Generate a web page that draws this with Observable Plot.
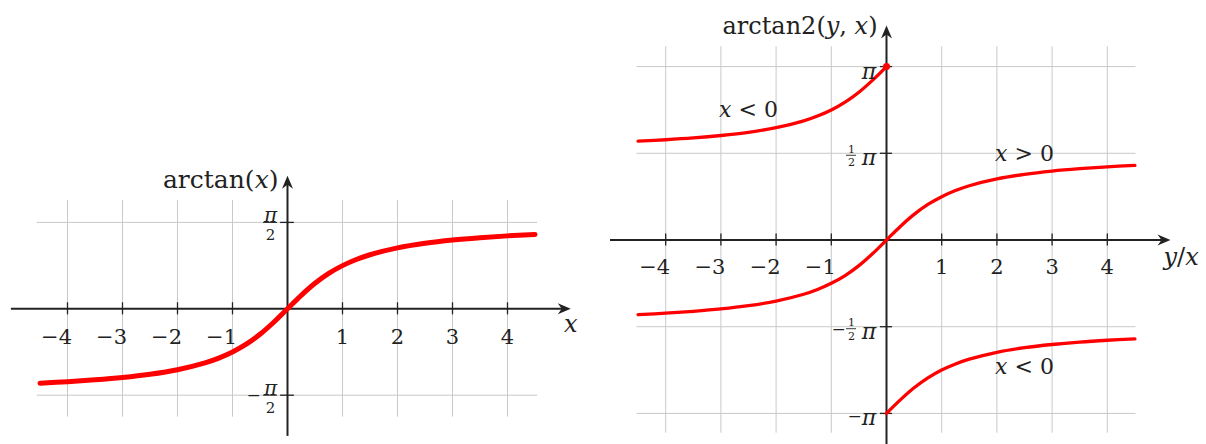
<!DOCTYPE html>
<html>
<head>
<meta charset="utf-8">
<script src="https://cdn.jsdelivr.net/npm/d3@7"></script>
<script src="https://cdn.jsdelivr.net/npm/@observablehq/plot@0.6"></script>
<style>
  html, body { margin: 0; padding: 0; background: #fff; }
  #charts { display: flex; width: 1206px; height: 444px; overflow: hidden; }
  #charts svg { flex: none; }
</style>
</head>
<body>
<div id="charts"></div>
<script>
const PI = Math.PI;

// arctan(t) sampled along the curve
const atanX = [-4.5, -4, -3.5, -3, -2.5, -2, -1.5, -1.25, -1, -0.75, -0.5, -0.25, 0,
               0.25, 0.5, 0.75, 1, 1.25, 1.5, 2, 2.5, 3, 3.5, 4, 4.5];
const atanY = [-1.352, -1.326, -1.292, -1.249, -1.190, -1.107, -0.983, -0.896, -0.785, -0.644, -0.464, -0.245, 0,
               0.245, 0.464, 0.644, 0.785, 0.896, 0.983, 1.107, 1.190, 1.249, 1.292, 1.326, 1.352];

// arctan2 branch for x < 0, y > 0 (ratio y/x negative)
const upperX = [-4.5, -4, -3.5, -3, -2.5, -2, -1.5, -1.25, -1, -0.75, -0.5, -0.25, 0];
const upperY = [1.790, 1.816, 1.849, 1.893, 1.951, 2.034, 2.159, 2.246, 2.356, 2.498, 2.678, 2.897, 3.142];

// arctan2 branch for x < 0, y < 0 (ratio y/x positive)
const lowerX = [0, 0.25, 0.5, 0.75, 1, 1.25, 1.5, 2, 2.5, 3, 3.5, 4, 4.5];
const lowerY = [-3.142, -2.897, -2.678, -2.498, -2.356, -2.246, -2.159, -2.034, -1.951, -1.893, -1.849, -1.816, -1.790];

// tick values and labels
const xTickValues = [-4, -3, -2, -1, 1, 2, 3, 4];
const xTickLabels = ["−4", "−3", "−2", "−1", "1", "2", "3", "4"];
const gridX = [-4, -3, -2, -1, 1, 2, 3, 4];
const leftYTicks = [PI / 2, -PI / 2];
const rightYTicks = [PI, PI / 2, -PI / 2, -PI];

// axis extents (data units)
const leftXAxis = [-5.02, 5.15];
const leftYAxis = [-2.32, 2.42];
const rightXAxis = [-5.0, 5.145];
const rightYAxis = [-3.8, 3.886];

// branch annotations on the arctan2 panel
const branchLabels = [
  {label: "*x* < 0", x: -2.5, y: 2.35},
  {label: "*x* > 0", x: 2.5, y: 1.567},
  {label: "*x* < 0", x: 2.5, y: -2.3}
];

const ink = "#222";
const grid = "#c9c9c9";
const red = "#ff0000";
const font = "DejaVu Serif";

const zip = (xs, ys) => xs.map((x, i) => ({x, y: ys[i]}));
const xTicks = xTickValues.map((v, i) => ({v, label: xTickLabels[i]}));

// filled "stealth" arrow heads, tip at the anchor point
const headRight = {draw(c) { c.moveTo(0, 0); c.lineTo(-13, -5.5); c.lineTo(-9, 0); c.lineTo(-13, 5.5); c.closePath(); }};
const headUp = {draw(c) { c.moveTo(0, 0); c.lineTo(-5.5, 13); c.lineTo(0, 9); c.lineTo(5.5, 13); c.closePath(); }};

// turn *...* segments of text into italic tspans
function italicize(svg) {
  d3.select(svg).selectAll("text").each(function () {
    const s = this.textContent;
    if (!s.includes("*")) return;
    const el = d3.select(this);
    el.text(null);
    s.split("*").forEach((part, i) => {
      if (!part) return;
      const t = el.append("tspan").text(part);
      if (i % 2) t.attr("font-style", "italic");
    });
  });
  return svg;
}

function axesMarks(xAxis, yAxis, tickHalf) {
  return [
    Plot.ruleY([0], {x1: xAxis[0], x2: xAxis[1] - 0.1, stroke: ink, strokeWidth: 2}),
    Plot.ruleX([0], {y1: yAxis[0], y2: yAxis[1] - 0.1, stroke: ink, strokeWidth: 2}),
    Plot.dot([{x: xAxis[1], y: 0}], {x: "x", y: "y", symbol: headRight, fill: ink, stroke: null, r: 5}),
    Plot.dot([{x: 0, y: yAxis[1]}], {x: "x", y: "y", symbol: headUp, fill: ink, stroke: null, r: 5}),
    Plot.ruleX(xTickValues, {y1: -tickHalf, y2: tickHalf, stroke: ink, strokeWidth: 1.3})
  ];
}

function xTickText(dy) {
  return [
    Plot.text(xTicks.filter(d => d.v < 0), {x: "v", y: 0, text: "label", dy, dx: 4.5, textAnchor: "end", fontSize: 21, fill: ink}),
    Plot.text(xTicks.filter(d => d.v > 0), {x: "v", y: 0, text: "label", dy, fontSize: 21, fill: ink})
  ];
}

// ---------- arctan(x) ----------
const left = Plot.plot({
  width: 600, height: 444, margin: 0,
  x: {domain: [-287 / 55, 313 / 55], axis: null},
  y: {domain: [-135.7 / 55, 308.3 / 55], axis: null},
  style: {fontFamily: font, background: "transparent", color: ink},
  marks: [
    Plot.ruleX(gridX, {y1: -1.97, y2: 1.97, stroke: grid, strokeWidth: 1}),
    Plot.ruleY(leftYTicks, {x1: -4.55, x2: 4.55, stroke: grid, strokeWidth: 1}),
    ...axesMarks(leftXAxis, leftYAxis, 0.11),
    Plot.ruleY(leftYTicks, {x1: -0.125, x2: 0.125, stroke: ink, strokeWidth: 1.3}),
    Plot.line(zip(atanX, atanY), {x: "x", y: "y", stroke: red, strokeWidth: 5, curve: "catmull-rom", strokeLinecap: "round"}),
    ...xTickText(28),
    // ±π/2 as stacked fractions
    Plot.text(leftYTicks, {x: 0, y: d => d, text: () => "π", dx: -17, dy: -7, fontSize: 20, fontStyle: "italic", fill: ink}),
    Plot.ruleY(leftYTicks, {x1: 0, x2: 0, insetLeft: -24, insetRight: 10, stroke: ink, strokeWidth: 1}),
    Plot.text(leftYTicks, {x: 0, y: d => d, text: () => "2", dx: -17, dy: 12.5, fontSize: 15, fill: ink}),
    Plot.text(leftYTicks.filter(v => v < 0), {x: 0, y: d => d, text: () => "−", dx: -34, fontSize: 17, fill: ink}),
    Plot.text(["arctan(*x*)"], {x: 0, y: leftYAxis[1], text: d => d, textAnchor: "end", dx: -9, dy: 4, fontSize: 25, fill: ink}),
    Plot.text(["*x*"], {x: leftXAxis[1], y: 0, text: d => d, dy: 16, fontSize: 24, fill: ink})
  ]
});

// ---------- arctan2(y, x) ----------
const halves = rightYTicks.filter(v => Math.abs(v) < 2);
const right = Plot.plot({
  width: 606, height: 444, margin: 0,
  x: {domain: [-286 / 55.2, 320 / 55.2], axis: null},
  y: {domain: [-204.5 / 55.2, 239.5 / 55.2], axis: null},
  style: {fontFamily: font, background: "transparent", color: ink},
  marks: [
    Plot.ruleX(gridX, {y1: -3.5, y2: 3.5, stroke: grid, strokeWidth: 1}),
    Plot.ruleY(rightYTicks, {x1: -4.52, x2: 4.52, stroke: grid, strokeWidth: 1}),
    ...axesMarks(rightXAxis, rightYAxis, 0.11),
    Plot.ruleY(rightYTicks, {x1: -0.11, x2: 0.11, stroke: ink, strokeWidth: 1.3}),
    Plot.line(zip(upperX, upperY), {x: "x", y: "y", stroke: red, strokeWidth: 3.3, curve: "catmull-rom"}),
    Plot.line(zip(atanX, atanY), {x: "x", y: "y", stroke: red, strokeWidth: 3.3, curve: "catmull-rom"}),
    Plot.line(zip(lowerX, lowerY), {x: "x", y: "y", stroke: red, strokeWidth: 3.3, curve: "catmull-rom"}),
    Plot.dot([{x: upperX[upperX.length - 1], y: upperY[upperY.length - 1]}], {x: "x", y: "y", r: 3.5, fill: red, stroke: null}),
    ...xTickText(27),
    // y tick labels: π, ½π, −½π, −π
    Plot.text(rightYTicks, {x: 0, y: d => d, text: () => "π", dx: -17.5, dy: 5, fontSize: 22, fontStyle: "italic", fill: ink}),
    Plot.text(halves, {x: 0, y: d => d, text: () => "1", dx: -35, dy: -4, fontSize: 11, fill: ink}),
    Plot.ruleY(halves, {x1: 0, x2: 0, insetLeft: -40, insetRight: 30, dy: 2, stroke: ink, strokeWidth: 0.9}),
    Plot.text(halves, {x: 0, y: d => d, text: () => "2", dx: -35, dy: 9.5, fontSize: 11, fill: ink}),
    Plot.text(rightYTicks.filter(v => v < 0 && v > -2), {x: 0, y: d => d, text: () => "−", dx: -48, dy: 3, fontSize: 17, fill: ink}),
    Plot.text(rightYTicks.filter(v => v < -2), {x: 0, y: d => d, text: () => "−", dx: -32, dy: 3, fontSize: 17, fill: ink}),
    Plot.text(branchLabels, {x: "x", y: "y", text: "label", fontSize: 22, fill: ink}),
    Plot.text(["arctan2(*y*, *x*)"], {x: 0, y: rightYAxis[1], text: d => d, textAnchor: "end", dx: -9, dy: 1, fontSize: 24, fill: ink}),
    Plot.text(["*y*/*x*"], {x: rightXAxis[1], y: 0, text: d => d, textAnchor: "start", dx: -7, dy: 17, fontSize: 24, fill: ink})
  ]
});

const host = document.getElementById("charts");
host.appendChild(italicize(left));
host.appendChild(italicize(right));
</script>
</body>
</html>
